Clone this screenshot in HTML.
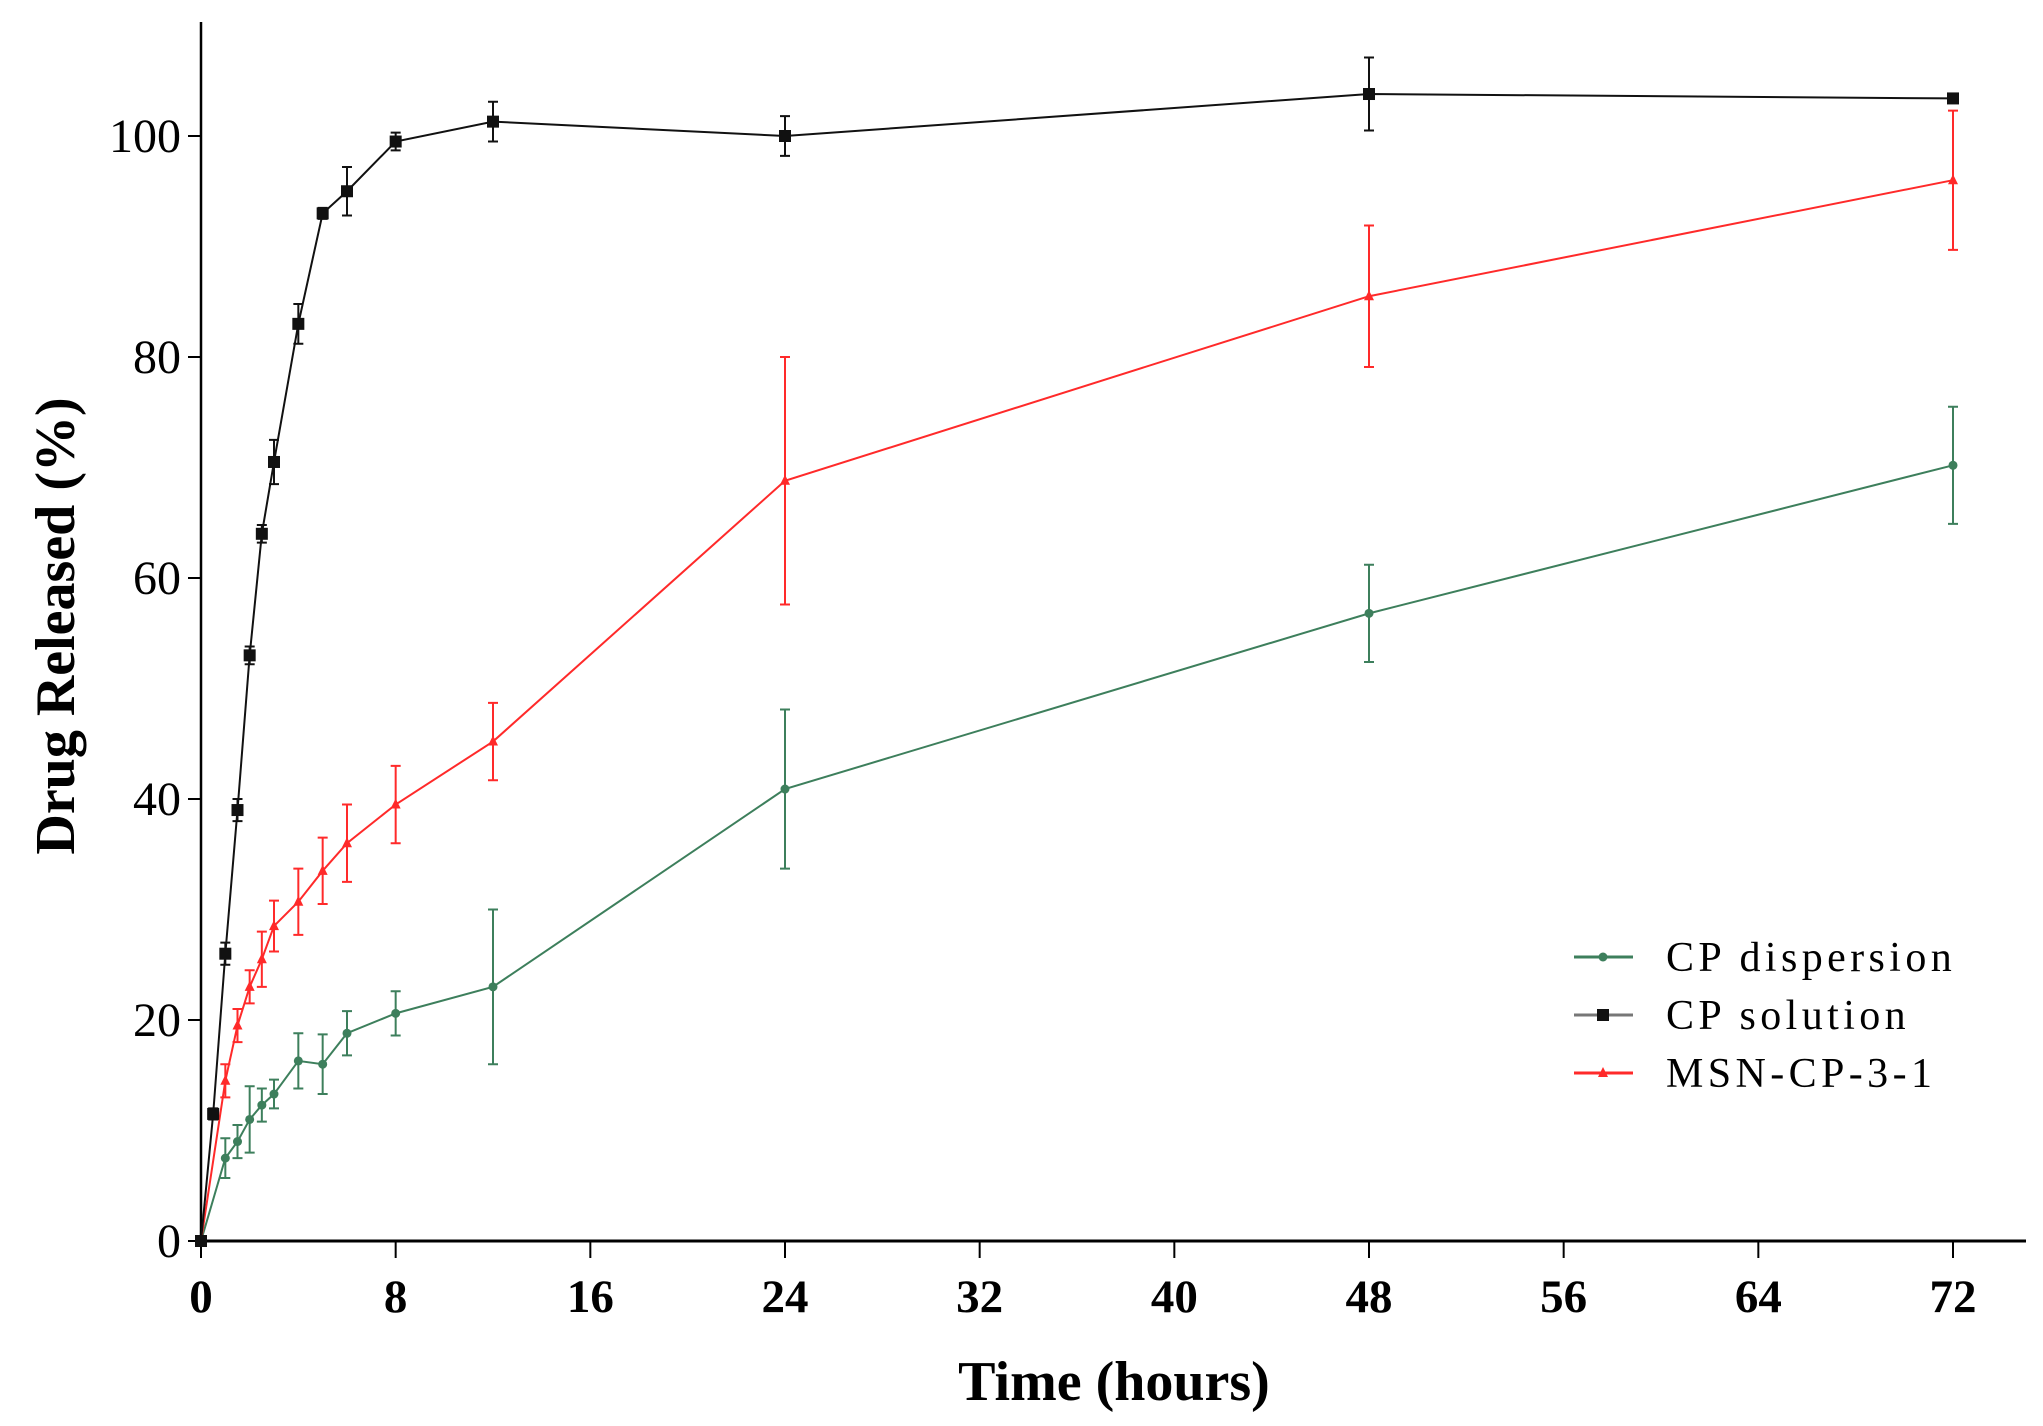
<!DOCTYPE html>
<html><head><meta charset="utf-8"><style>
html,body{margin:0;padding:0;background:#fff;}
svg{display:block;font-family:"Liberation Serif",serif;}
</style></head><body>
<svg id="chart" width="2043" height="1426" viewBox="0 0 2043 1426" xmlns="http://www.w3.org/2000/svg">
<g id="axes"></g>
<g id="series"></g>
<g id="legend"></g>
<text x="1114" y="1400" text-anchor="middle" font-size="56" font-weight="bold">Time (hours)</text>
<text transform="translate(74,626) rotate(-90)" text-anchor="middle" font-size="56" font-weight="bold">Drug Released (%)</text>
</svg>
<script>
const xTicks = [0, 8, 16, 24, 32, 40, 48, 56, 64, 72];
const yTicks = [0, 20, 40, 60, 80, 100];
const solT = [0, 0.5, 1, 1.5, 2, 2.5, 3, 4, 5, 6, 8, 12, 24, 48, 72];
const solV = [0, 11.5, 26, 39, 53, 64, 70.5, 83, 93, 95, 99.5, 101.3, 100, 103.8, 103.4];
const solE = [0, 0.5, 1, 1, 0.8, 0.8, 2, 1.8, 0.5, 2.2, 0.8, 1.8, 1.8, 3.3, 0.4];
const msnT = [0, 1, 1.5, 2, 2.5, 3, 4, 5, 6, 8, 12, 24, 48, 72];
const msnV = [0, 14.5, 19.5, 23, 25.5, 28.5, 30.7, 33.5, 36, 39.5, 45.2, 68.8, 85.5, 96];
const msnE = [0, 1.5, 1.5, 1.5, 2.5, 2.3, 3, 3, 3.5, 3.5, 3.5, 11.2, 6.4, 6.3];
const dspT = [0, 1, 1.5, 2, 2.5, 3, 4, 5, 6, 8, 12, 24, 48, 72];
const dspV = [0, 7.5, 9, 11, 12.3, 13.3, 16.3, 16, 18.8, 20.6, 23, 40.9, 56.8, 70.2];
const dspE = [0, 1.8, 1.5, 3, 1.5, 1.3, 2.5, 2.7, 2, 2, 7, 7.2, 4.4, 5.3];
const legendLabels = ["CP dispersion", "CP solution", "MSN-CP-3-1"];

const NS = "http://www.w3.org/2000/svg";
const X0 = 201, XPX = (1953 - 201) / 72, Y0 = 1241, YPX = (1241 - 136) / 100;
const xs = t => X0 + t * XPX;
const ys = v => Y0 - v * YPX;
function mk(tag, attrs, parent) {
  const e = document.createElementNS(NS, tag);
  for (const k in attrs) e.setAttribute(k, attrs[k]);
  parent.appendChild(e);
  return e;
}
const axes = document.getElementById('axes');
let el = mk('line', {x1: X0, y1: 22, x2: X0, y2: Y0, stroke: '#000', 'stroke-width': 2.5}, axes);


el = mk('line', {x1: X0 - 2, y1: Y0, x2: 2026, y2: Y0, stroke: '#000', 'stroke-width': 3}, axes);


xTicks.forEach(t => {
  const l = mk('line', {x1: xs(t), y1: Y0, x2: xs(t), y2: Y0 + 17, stroke: '#000', 'stroke-width': 2}, axes);
  
  
  const tx = mk('text', {x: xs(t), y: Y0 + 71, 'text-anchor': 'middle', 'font-size': 47, 'font-weight': 'bold'}, axes);
  tx.textContent = t;
  
  
});
yTicks.forEach(v => {
  const l = mk('line', {x1: X0 - 13, y1: ys(v), x2: X0, y2: ys(v), stroke: '#000', 'stroke-width': 2}, axes);
  
  
  const tx = mk('text', {x: X0 - 20, y: ys(v) + 16, 'text-anchor': 'end', 'font-size': 48}, axes);
  tx.textContent = v;
  
  
});

const series = document.getElementById('series');
function marker(g, kind, cx, cy, color) {
  let m;
  if (kind === 'square') m = mk('rect', {x: cx - 6, y: cy - 6, width: 12, height: 12, fill: color}, g);
  else if (kind === 'tri') m = mk('polygon', {points: `${cx},${cy - 6} ${cx - 5},${cy + 4} ${cx + 5},${cy + 4}`, fill: color}, g);
  else m = mk('circle', {cx: cx, cy: cy, r: 4.5, fill: color}, g);
  return m;
}
function drawSeries(name, T, V, E, color, kind) {
  const g = mk('g', {}, series);
  
  
  T.forEach((t, i) => {
    if (E[i] <= 0) return;
    const x = xs(t), y1 = ys(V[i] - E[i]), y2 = ys(V[i] + E[i]);
    const eb = mk('path', {d: `M${x},${y1}V${y2}M${x - 5},${y1}H${x + 5}M${x - 5},${y2}H${x + 5}`, stroke: color, 'stroke-width': 2, fill: 'none'}, g);
    
    
  });
  const line = mk('polyline', {points: T.map((t, i) => xs(t) + ',' + ys(V[i])).join(' '), fill: 'none', stroke: color, 'stroke-width': 2}, g);
  
  
  T.forEach((t, i) => {
    const m = marker(g, kind, xs(t), ys(V[i]), color);
    
    
  });
}
drawSeries('cp-dispersion', dspT, dspV, dspE, '#3d7f5c', 'circle');
drawSeries('msn-cp-3-1', msnT, msnV, msnE, '#ff2a2a', 'tri');
drawSeries('cp-solution', solT, solV, solE, '#111', 'square');

const legend = document.getElementById('legend');
const legColors = ['#3d7f5c', '#111', '#ff2a2a'];
const legKinds = ['circle', 'square', 'tri'];
legendLabels.forEach((lab, i) => {
  const y = 957 + i * 58;
  const g = mk('g', {}, legend);
  
  
  mk('line', {x1: 1574, y1: y, x2: 1633, y2: y, stroke: i === 1 ? '#777' : legColors[i], 'stroke-width': 3}, g);
  marker(g, legKinds[i], 1603, y, legColors[i]);
  const tx = mk('text', {x: 1666, y: y + 14, 'font-size': 42, 'letter-spacing': 4.4}, g);
  tx.textContent = lab;
});
</script>
</body></html>
